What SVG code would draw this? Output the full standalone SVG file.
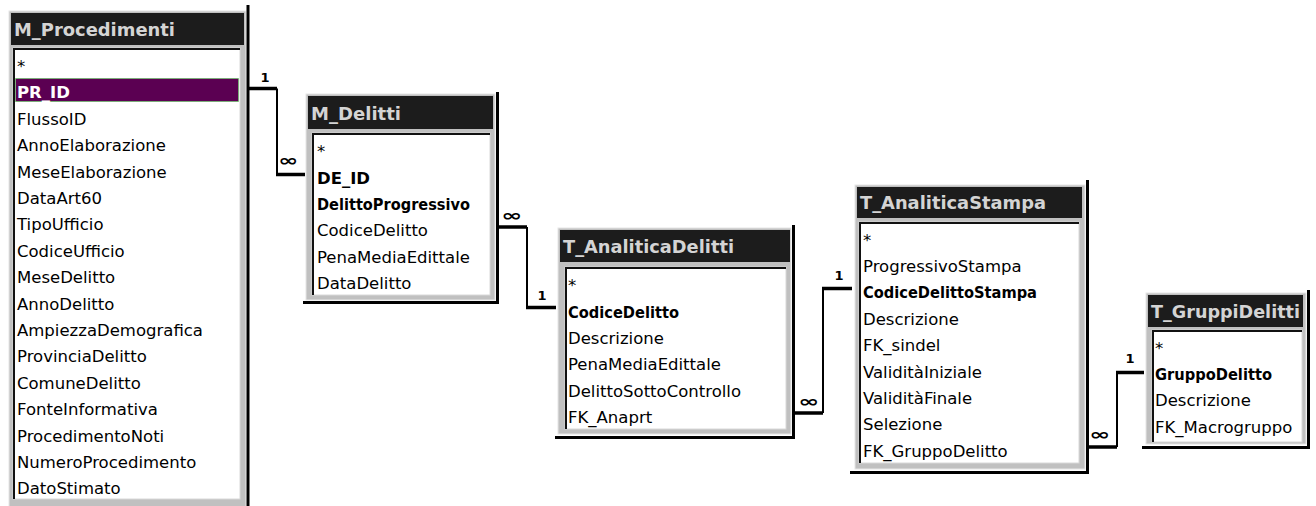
<svg xmlns="http://www.w3.org/2000/svg" width="1316" height="506" viewBox="0 0 1316 506">
<style>
.frame{fill:#c0c0c0;stroke:#e6e6e6;stroke-width:1}
.shadow{fill:none;stroke:#000;stroke-width:3}
.title{fill:#1c1c1c}
.tt{font-family:"DejaVu Sans",Verdana,sans-serif;font-weight:bold;font-size:18px;fill:#d4d4d4}
.list{fill:#fff;stroke:#d8d8d8;stroke-width:1}
.edge{fill:none;stroke:#111;stroke-width:2}
.f{font-family:"DejaVu Sans",Verdana,sans-serif;font-size:16.5px;fill:#000}
.b{font-weight:bold}
.hl{fill:#5b0052;stroke:#4cd94c;stroke-width:1;stroke-dasharray:1 1}
.thick{fill:none;stroke:#000;stroke-width:3.5}
.thin{fill:none;stroke:#000;stroke-width:2}
.one{font-family:"DejaVu Sans",sans-serif;font-weight:bold;font-size:13px;fill:#000;text-anchor:middle}
.inf{font-family:"DejaVu Sans",sans-serif;font-weight:bold;font-size:16px;fill:#000}
</style>
<rect width="1316" height="506" fill="#fff"/>

<g id="connectors">
  <path class="thick" d="M249,88.5 H277"/><path class="thin" d="M277,88.5 V174"/><path class="thick" d="M276,174.5 H305"/>
  <text class="one" x="265" y="82">1</text><text class="inf" x="278" y="166" textLength="20" lengthAdjust="spacingAndGlyphs">∞</text>

  <path class="thick" d="M498,227 H527"/><path class="thin" d="M527,227 V307"/><path class="thick" d="M526,307.5 H556"/>
  <text class="one" x="542" y="300">1</text><text class="inf" x="501" y="220.5" textLength="21" lengthAdjust="spacingAndGlyphs">∞</text>

  <path class="thick" d="M795,413 H823"/><path class="thin" d="M823,413 V288"/><path class="thick" d="M822,288.5 H852"/>
  <text class="one" x="839" y="280">1</text><text class="inf" x="798" y="406.5" textLength="21" lengthAdjust="spacingAndGlyphs">∞</text>

  <path class="thick" d="M1089,447 H1117"/><path class="thin" d="M1117,447 V372"/><path class="thick" d="M1116,372.5 H1144"/>
  <text class="one" x="1130" y="363">1</text><text class="inf" x="1089" y="440" textLength="21" lengthAdjust="spacingAndGlyphs">∞</text>
</g>

<g id="M_Procedimenti">
  <rect class="frame" x="9" y="11" width="237" height="497"/>
  <path class="shadow" d="M248,5 V508"/>
  <rect class="title" x="11" y="13" width="233" height="32"/>
  <text class="tt" x="14" y="36" textLength="161" lengthAdjust="spacingAndGlyphs">M_Procedimenti</text>
  <rect class="list" x="13" y="48" width="227" height="451"/>
  <path class="edge" d="M14,499 V49 H240"/>
  <rect class="hl" x="15.5" y="78.5" width="223" height="23"/>
  <text class="f" x="17" y="72">*</text>
  <text class="f b" x="17" y="97.5" style="fill:#fff" textLength="53" lengthAdjust="spacingAndGlyphs">PR_ID</text>
  <text class="f" x="17" y="124.8">FlussoID</text>
  <text class="f" x="17" y="151.2">AnnoElaborazione</text>
  <text class="f" x="17" y="177.6">MeseElaborazione</text>
  <text class="f" x="17" y="204">DataArt60</text>
  <text class="f" x="17" y="230.4">TipoUfficio</text>
  <text class="f" x="17" y="256.8">CodiceUfficio</text>
  <text class="f" x="17" y="283.2">MeseDelitto</text>
  <text class="f" x="17" y="309.6">AnnoDelitto</text>
  <text class="f" x="17" y="336">AmpiezzaDemografica</text>
  <text class="f" x="17" y="362.4">ProvinciaDelitto</text>
  <text class="f" x="17" y="388.8">ComuneDelitto</text>
  <text class="f" x="17" y="415.2">FonteInformativa</text>
  <text class="f" x="17" y="441.6">ProcedimentoNoti</text>
  <text class="f" x="17" y="468">NumeroProcedimento</text>
  <text class="f" x="17" y="494.4">DatoStimato</text>
</g>

<g id="M_Delitti">
  <rect class="frame" x="306" y="94" width="189" height="206"/>
  <path class="shadow" d="M497.5,92 V302.5 H303"/>
  <rect class="title" x="308" y="96" width="185" height="33"/>
  <text class="tt" x="311" y="120" textLength="90" lengthAdjust="spacingAndGlyphs">M_Delitti</text>
  <rect class="list" x="312" y="133" width="178" height="162"/>
  <path class="edge" d="M313,295 V134 H490"/>
  <text class="f" x="317" y="157.2">*</text>
  <text class="f b" x="317" y="183.5" textLength="53" lengthAdjust="spacingAndGlyphs">DE_ID</text>
  <text class="f b" x="317" y="209.9" textLength="153" lengthAdjust="spacingAndGlyphs">DelittoProgressivo</text>
  <text class="f" x="317" y="236.3">CodiceDelitto</text>
  <text class="f" x="317" y="262.7">PenaMediaEdittale</text>
  <text class="f" x="317" y="289.1">DataDelitto</text>
</g>

<g id="T_AnaliticaDelitti">
  <rect class="frame" x="558" y="228" width="233" height="206"/>
  <path class="shadow" d="M793.5,225 V437.5 H555"/>
  <rect class="title" x="560" y="230" width="230" height="32"/>
  <text class="tt" x="563" y="253" textLength="171" lengthAdjust="spacingAndGlyphs">T_AnaliticaDelitti</text>
  <rect class="list" x="565" y="267" width="221" height="162"/>
  <path class="edge" d="M566,429 V268 H786"/>
  <text class="f" x="568" y="291.1">*</text>
  <text class="f b" x="568" y="317.5" textLength="111" lengthAdjust="spacingAndGlyphs">CodiceDelitto</text>
  <text class="f" x="568" y="343.9">Descrizione</text>
  <text class="f" x="568" y="370.3">PenaMediaEdittale</text>
  <text class="f" x="568" y="396.7">DelittoSottoControllo</text>
  <text class="f" x="568" y="423.1">FK_Anaprt</text>
</g>

<g id="T_AnaliticaStampa">
  <rect class="frame" x="855" y="185" width="230" height="284"/>
  <path class="shadow" d="M1087.5,180 V472.5 H850"/>
  <rect class="title" x="857" y="187" width="225" height="31"/>
  <text class="tt" x="860" y="209" textLength="186" lengthAdjust="spacingAndGlyphs">T_AnaliticaStampa</text>
  <rect class="list" x="859" y="222" width="220" height="241"/>
  <path class="edge" d="M860,463 V223 H1079"/>
  <text class="f" x="863" y="245.6">*</text>
  <text class="f" x="863" y="272">ProgressivoStampa</text>
  <text class="f b" x="863" y="298.4" textLength="174" lengthAdjust="spacingAndGlyphs">CodiceDelittoStampa</text>
  <text class="f" x="863" y="324.8">Descrizione</text>
  <text class="f" x="863" y="351.2">FK_sindel</text>
  <text class="f" x="863" y="377.6">ValiditàIniziale</text>
  <text class="f" x="863" y="404">ValiditàFinale</text>
  <text class="f" x="863" y="430.4">Selezione</text>
  <text class="f" x="863" y="456.8">FK_GruppoDelitto</text>
</g>

<g id="T_GruppiDelitti">
  <rect class="frame" x="1146" y="293" width="160" height="151"/>
  <path class="shadow" d="M1308.5,290 V447.5 H1142"/>
  <rect class="title" x="1148" y="295" width="155" height="32"/>
  <text class="tt" x="1151" y="318" textLength="149" lengthAdjust="spacingAndGlyphs">T_GruppiDelitti</text>
  <rect class="list" x="1152" y="330" width="150" height="112"/>
  <path class="edge" d="M1153,442 V331 H1302"/>
  <text class="f" x="1155" y="353.6">*</text>
  <text class="f b" x="1155" y="380" textLength="117" lengthAdjust="spacingAndGlyphs">GruppoDelitto</text>
  <text class="f" x="1155" y="406.4">Descrizione</text>
  <text class="f" x="1155" y="432.8">FK_Macrogruppo</text>
</g>
</svg>
